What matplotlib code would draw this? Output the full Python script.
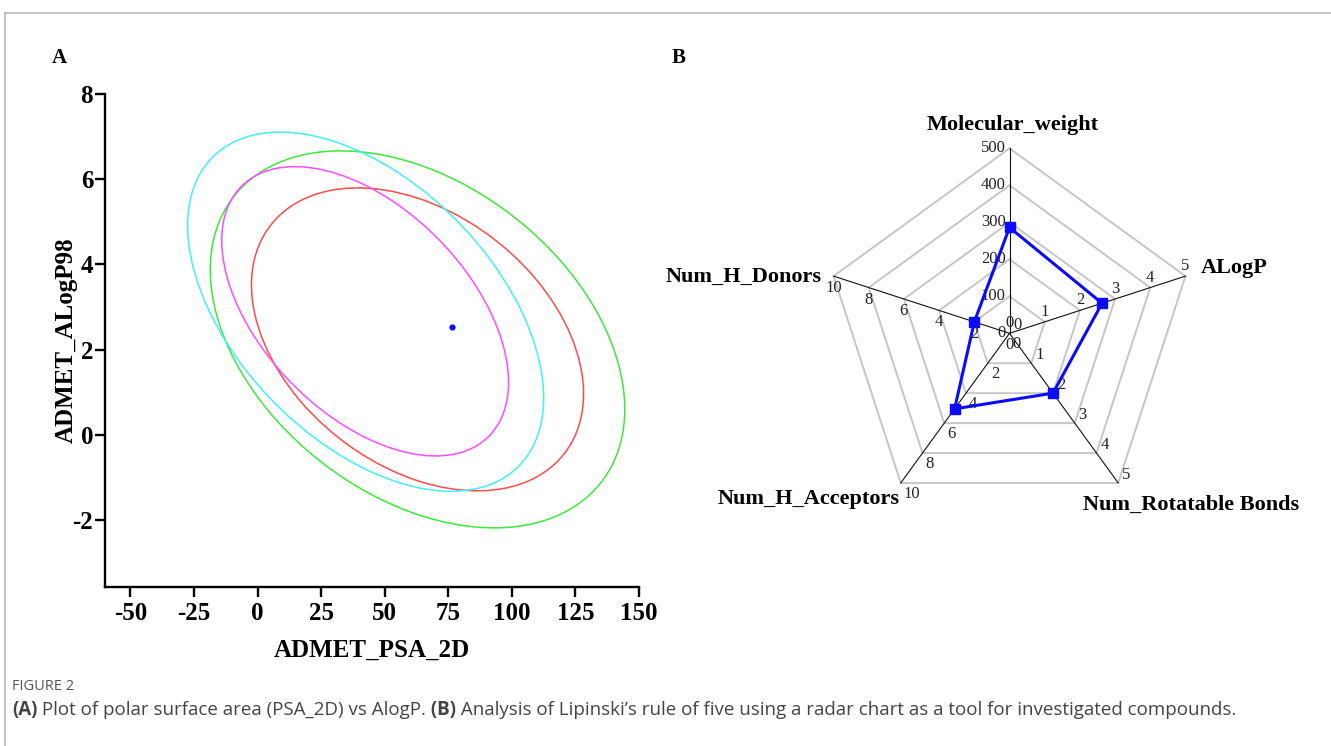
import matplotlib
matplotlib.use("Agg")
import matplotlib.pyplot as plt
import matplotlib.patches as mpatches
import matplotlib.transforms as mtrans
from matplotlib.lines import Line2D
import numpy as np

W, H = 1331, 746

# ---- panel A: confidence ellipses (centre, half range in x / y, correlation)
ell_colors = ["#3be83b", "#ff4a4a", "#40f0f8", "#ff4cff"]
ell_cx = [62.9, 62.9, 42.5, 42.3]
ell_cy = [2.24, 2.24, 2.89, 2.90]
ell_rx = [81.5, 65.3, 70.0, 56.4]
ell_ry = [4.43, 3.56, 4.22, 3.40]
ell_rho = [-0.37, -0.36, -0.48, -0.49]

point_x = [76.5]
point_y = [2.54]

xticks_a = [-50, -25, 0, 25, 50, 75, 100, 125, 150]
yticks_a = [-2, 0, 2, 4, 6, 8]

# ---- panel B: radar
radar_names = ["Molecular_weight", "ALogP", "Num_Rotatable Bonds",
               "Num_H_Acceptors", "Num_H_Donors"]
radar_max = [500, 5, 5, 10, 10]
radar_vals = [286, 2.63, 2.0, 5.05, 2.0]

serif = "Liberation Serif"

fig = plt.figure(figsize=(W / 100, H / 100), dpi=100)

# ---------------- panel A
ax = fig.add_axes([105 / W, 1 - 587 / H, (639 - 105) / W, (587 - 94.3) / H])
for c, cx, cy, rx, ry, rho in zip(ell_colors, ell_cx, ell_cy, ell_rx, ell_ry, ell_rho):
    m = mtrans.Affine2D.from_values(rx, ry * rho, 0, ry * np.sqrt(1 - rho ** 2), cx, cy)
    circ = mpatches.Circle((0, 0), 1, fill=False, edgecolor=c, lw=1.1,
                           transform=m + ax.transData)
    ax.add_patch(circ)
ax.plot(point_x, point_y, "o", color="#1010ff", ms=4.5, mew=0)

ax.set_xlim(-60, 150)
ax.set_ylim(-3.58, 8)
ax.set_xticks(xticks_a)
ax.set_xticklabels([str(v) for v in xticks_a])
ax.set_yticks(yticks_a)
ax.set_yticklabels([str(v) for v in yticks_a])
for lab in ax.get_xticklabels() + ax.get_yticklabels():
    lab.set_fontfamily(serif)
    lab.set_fontweight("bold")
    lab.set_fontsize(18)
ax.tick_params(axis="x", length=7, width=1.7, pad=3.5)
ax.tick_params(axis="y", length=7, width=1.7, pad=1.5)
for s in ["top", "right"]:
    ax.spines[s].set_visible(False)
for s in ["left", "bottom"]:
    ax.spines[s].set_linewidth(1.7)
ax.set_xlabel("ADMET_PSA_2D", fontfamily=serif, fontweight="bold", fontsize=18, labelpad=10)
ax.set_ylabel("ADMET_ALogP98", fontfamily=serif, fontweight="bold", fontsize=18, labelpad=-4)

fig.text(59 / W, 1 - 58 / H, "A", fontfamily=serif, fontweight="bold", fontsize=15,
         ha="center", va="center")
fig.text(679 / W, 1 - 58 / H, "B", fontfamily=serif, fontweight="bold", fontsize=15,
         ha="center", va="center")

# ---------------- panel B (1 unit = full spoke length = 185 px)
cx_px, cy_px, R = 1009.5, 333.3, 185.0
left, right, top, bottom = 660, 1331, 100, 540
rb = fig.add_axes([left / W, 1 - bottom / H, (right - left) / W, (bottom - top) / H])
rb.set_xlim((left - cx_px) / R, (right - cx_px) / R)
rb.set_ylim((cy_px - bottom) / R, (cy_px - top) / R)
rb.axis("off")

ang = np.deg2rad(90 - 72 * np.arange(5))
vx, vy = np.cos(ang), np.sin(ang)

for k in range(1, 6):
    r = k / 5
    rb.plot(np.append(vx, vx[0]) * r, np.append(vy, vy[0]) * r, color="#c6c6c6", lw=1.4,
            solid_joinstyle="miter")
for i in range(5):
    rb.plot([0, vx[i]], [0, vy[i]], color="#111111", lw=0.8)

rr = np.array(radar_vals) / np.array(radar_max)
px, py = rr * vx, rr * vy
rb.plot(np.append(px, px[0]), np.append(py, py[0]), color="#0a0aff", lw=2.2, zorder=5)
rb.plot(px, py, "s", color="#0a0aff", ms=6.5, zorder=6)

tick_off = [(-4, 0, "right"), (0, 10, "center"), (8, 8, "center"),
            (3, -11, "left"), (0, -12, "center")]
for i in range(5):
    ticks = np.linspace(0, radar_max[i], 6)
    dx, dy, ha = tick_off[i]
    for t in ticks:
        r = t / radar_max[i]
        rb.annotate("%d" % t, (r * vx[i], r * vy[i]), xytext=(dx, dy),
                    textcoords="offset pixels", ha=ha, va="center",
                    fontfamily=serif, fontsize=12, color="#222222")

name_off = [(3, 23, "center"), (15, 8, "left"), (-35, -22, "left"),
            (-1, -16, "right"), (-12, -1, "right")]
for i in range(5):
    dx, dy, ha = name_off[i]
    rb.annotate(radar_names[i], (vx[i], vy[i]), xytext=(dx, dy),
                textcoords="offset pixels", ha=ha, va="center",
                fontfamily=serif, fontweight="bold", fontsize=16,
                annotation_clip=False)

# ---------------- frame and caption
fig.add_artist(Line2D([5 / W, 1], [1 - 13 / H, 1 - 13 / H], transform=fig.transFigure,
                      color="#b8b8b8", lw=1.2))
fig.add_artist(Line2D([5 / W, 5 / W], [0, 1 - 13 / H], transform=fig.transFigure,
                      color="#b8b8b8", lw=1.2))

fig.text(12 / W, 1 - 687 / H, "FIGURE 2", fontfamily="Open Sans", fontsize=10.5,
         color="#555555", va="center")

pieces = [("(A)", "bold"), (" Plot of polar surface area (PSA_2D) vs AlogP.", "normal"),
          (" (B)", "bold"),
          (" Analysis of Lipinski\u2019s rule of five using a radar chart as a tool for "
           "investigated compounds.", "normal")]
renderer = fig.canvas.get_renderer()
xpos = 12
for txt, wt in pieces:
    t = fig.text(xpos / W, 1 - 710 / H, txt, fontfamily="Open Sans", fontsize=13.5,
                 fontweight=wt, color="#444444", va="center")
    xpos += t.get_window_extent(renderer).width

fig.savefig("out.png", dpi=100)
